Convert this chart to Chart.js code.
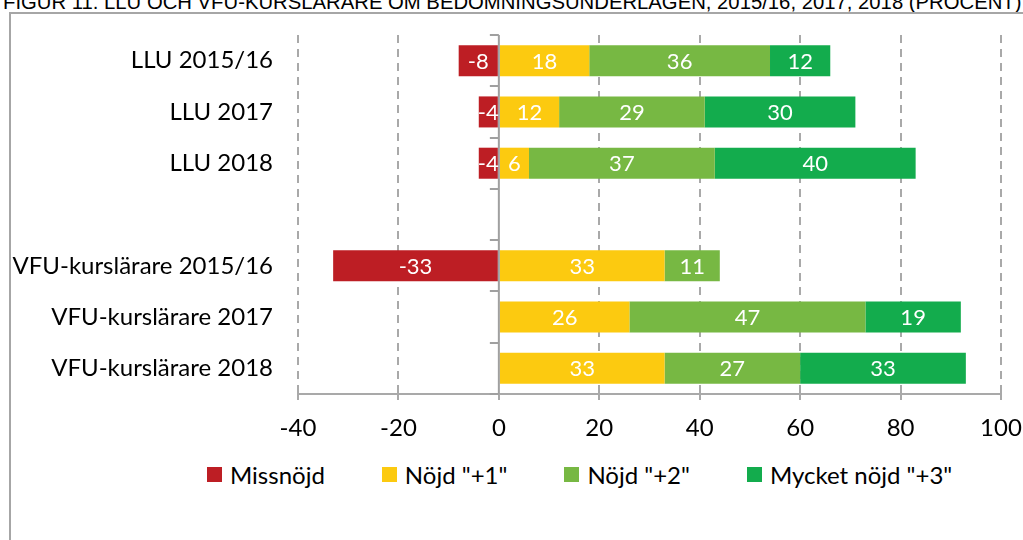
<!DOCTYPE html>
<html lang="sv">
<head>
<meta charset="utf-8">
<title>Figur 11</title>
<script src="https://cdn.jsdelivr.net/npm/chart.js@4/dist/chart.umd.min.js"></script>
<style>
    html, body {
        margin: 0;
        padding: 0;
        width: 1023px;
        height: 540px;
        overflow: hidden;
        background: #fff;
        font-family: Lato, sans-serif;
    }
    .title {
        position: absolute;
        left: 3px;
        top: -8px;
        font: 20.3px/20px "Liberation Sans", Arial, sans-serif;
        color: #000;
        white-space: nowrap;
    }
    .frame {
        position: absolute;
        left: 9px;
        top: 12px;
        width: 1100px;
        height: 600px;
        border-left: 2px solid #a6a6a6;
        border-top: 2px solid #a6a6a6;
    }
    .chart-box {
        position: absolute;
        left: 0;
        top: 0;
        width: 1023px;
        height: 444px;
    }
    .legend {
        position: absolute;
        left: 207px;
        top: 462px;
        height: 25px;
        display: flex;
        align-items: center;
        font-size: 24px;
        color: #000;
        white-space: nowrap;
    }
    .legend .item {
        display: flex;
        align-items: center;
        margin-right: 57px;
    }
    .legend .box {
        width: 15px;
        height: 15px;
        margin-right: 8px;
    }
</style>
</head>
<body>
<div class="title">FIGUR 11. LLU OCH VFU-KURSLÄRARE OM BEDÖMNINGSUNDERLAGEN, 2015/16, 2017, 2018 (PROCENT)</div>
<div class="frame"></div>
<div class="chart-box"><canvas id="barChart"></canvas></div>
<div class="legend" id="legend"></div>

<script>
// --- Data (procent) ---
const categories = [
    "LLU 2015/16",
    "LLU 2017",
    "LLU 2018",
    "",
    "VFU-kurslärare 2015/16",
    "VFU-kurslärare 2017",
    "VFU-kurslärare 2018"
];
const seriesNames = ["Missnöjd", 'Nöjd "+1"', 'Nöjd "+2"', 'Mycket nöjd "+3"'];
const missnojd = [-8, -4, -4, null, -33, null, null];
const nojd1 = [18, 12, 6, null, 33, 26, 33];
const nojd2 = [36, 29, 37, null, 11, 47, 27];
const mycketNojd = [12, 30, 40, null, null, 19, 33];
const xTicks = [-40, -20, 0, 20, 40, 60, 80, 100];

const colors = ["#bd1e24", "#fcca10", "#77b843", "#13ac4d"];
const gridColor = "#a9a9a9";

// Draws the zero axis (over the bars) and the white value labels
const barDecorations = {
    id: "barDecorations",
    afterDatasetsDraw(chart) {
        const { ctx, chartArea, scales } = chart;
        const x0 = scales.x.getPixelForValue(0);

        ctx.save();
        ctx.strokeStyle = "#a0a0a0";
        ctx.lineWidth = 2;
        ctx.beginPath();
        ctx.moveTo(x0, chartArea.top);
        ctx.lineTo(x0, chartArea.bottom);
        for (let i = 0; i <= categories.length; i++) {
            const y = Math.round(scales.y.getPixelForValue(i - 0.5));
            ctx.moveTo(x0 - 9, y);
            ctx.lineTo(x0, y);
        }
        ctx.stroke();

        ctx.fillStyle = "#fff";
        ctx.font = "22px Lato, sans-serif";
        ctx.textAlign = "center";
        ctx.textBaseline = "middle";
        chart.data.datasets.forEach((ds, di) => {
            const meta = chart.getDatasetMeta(di);
            meta.data.forEach((bar, i) => {
                const v = ds.data[i];
                if (v === null || v === 0) return;
                ctx.fillText(String(v), (bar.x + bar.base) / 2, bar.y + 1);
            });
        });
        ctx.restore();
    }
};

const ctx = document.getElementById("barChart").getContext("2d");
const chart = new Chart(ctx, {
    type: "bar",
    data: {
        labels: categories,
        datasets: [missnojd, nojd1, nojd2, mycketNojd].map((data, i) => ({
            label: seriesNames[i],
            data: data,
            backgroundColor: colors[i],
            borderWidth: 0,
            barPercentage: 0.605,
            categoryPercentage: 1
        }))
    },
    options: {
        indexAxis: "y",
        responsive: true,
        maintainAspectRatio: false,
        animation: false,
        layout: { padding: { top: 35, right: 22, left: 0, bottom: 0 } },
        plugins: {
            legend: { display: false },
            tooltip: { enabled: false }
        },
        scales: {
            x: {
                stacked: true,
                min: -40,
                max: 100,
                afterBuildTicks: (scale) => {
                    scale.ticks = xTicks.map((v) => ({ value: v }));
                },
                afterFit: (scale) => {
                    scale.height = 50;
                    scale.paddingLeft = 0;
                    scale.paddingRight = 0;
                },
                ticks: {
                    color: "#000",
                    padding: 14,
                    font: { family: "Lato", size: 24 }
                },
                grid: {
                    color: (c) => (c.tick && c.tick.value === 0 ? "rgba(0,0,0,0)" : gridColor),
                    lineWidth: 2,
                    tickLength: 6,
                    tickColor: gridColor,
                    tickWidth: 2
                },
                border: {
                    display: true,
                    color: gridColor,
                    width: 2,
                    dash: (c) => (c.tick && c.tick.value === 0 ? [] : [8, 6])
                }
            },
            y: {
                stacked: true,
                grid: { display: false, drawTicks: false },
                border: { display: false },
                ticks: {
                    color: "#000",
                    padding: 25,
                    font: { family: "Lato", size: 24 }
                },
                afterFit: (scale) => {
                    scale.width = 298;
                    scale.paddingTop = 0;
                    scale.paddingBottom = 0;
                }
            }
        }
    },
    plugins: [barDecorations]
});

// HTML legend built from the datasets
const legendEl = document.getElementById("legend");
chart.data.datasets.forEach((ds) => {
    const item = document.createElement("div");
    item.className = "item";
    const box = document.createElement("span");
    box.className = "box";
    box.style.background = ds.backgroundColor;
    const text = document.createElement("span");
    text.textContent = ds.label;
    item.appendChild(box);
    item.appendChild(text);
    legendEl.appendChild(item);
});
</script>
</body>
</html>
